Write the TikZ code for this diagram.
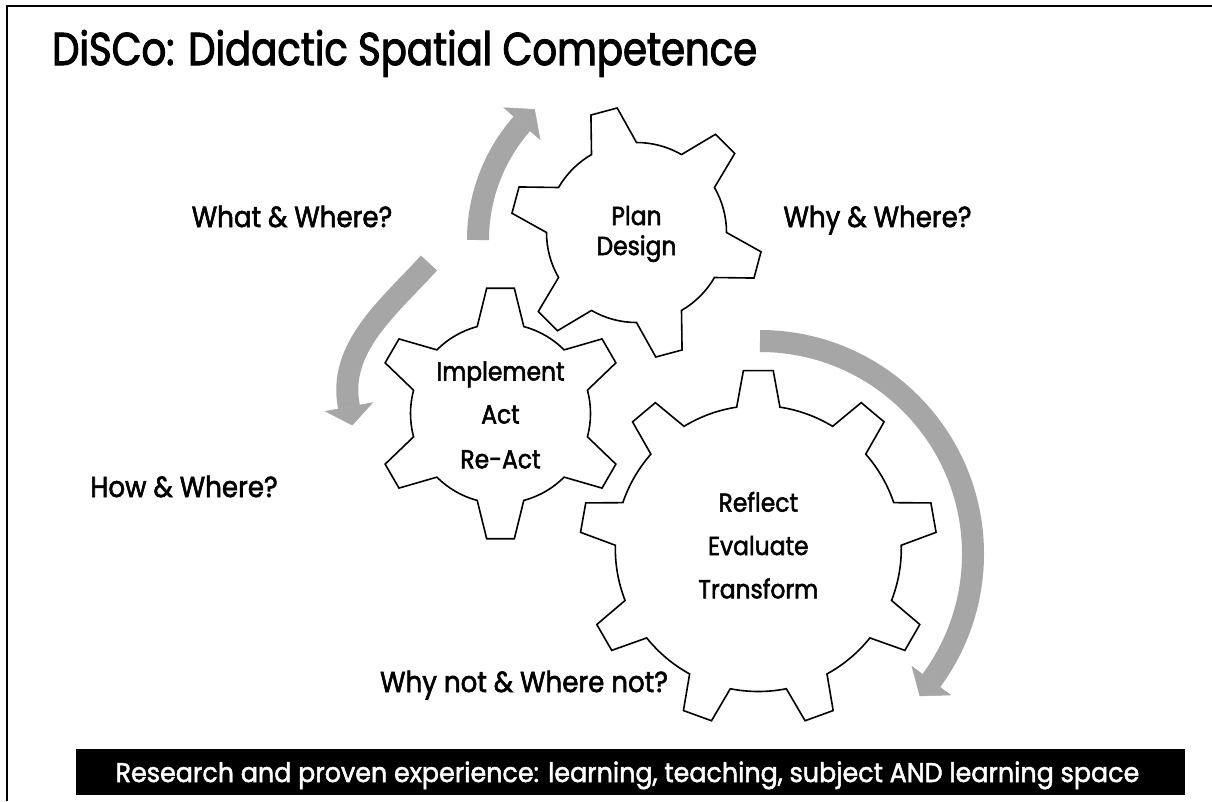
\documentclass[tikz,border=0pt]{standalone}
\usepackage{fontspec}
\setmainfont{Poppins}[FakeStretch=0.9, FakeBold=2]
\newfontfamily\titlefont{Poppins}[FakeStretch=0.84, FakeBold=2.2]
\newfontfamily\barfont{Poppins}[FakeStretch=0.94, FakeBold=1.8]
\usetikzlibrary{calc}
\definecolor{arrowgray}{RGB}{166,166,166}
\newcommand\drawgear[8]{%
  \draw[gearline, shift={#2}] ({#6-#7}:#3pt)
    \foreach \k [evaluate=\k as \a using #6+(\k-1)*360/#5] in {1,...,#5}{
      -- ({\a-#8}:#4pt) -- ({\a+#8}:#4pt) -- ({\a+#7}:#3pt)
      arc[start angle={\a+#7}, end angle={\a+360/#5-#7}, radius=#3pt]
    } -- cycle;
  \coordinate (#1) at #2;
}
\begin{document}
\begin{tikzpicture}[x=1pt,y=1pt,
  gearline/.style={draw=black, line width=1.6pt, fill=white, line join=miter},
  shaft/.style={draw=arrowgray, line width=22pt, line cap=butt},
  headfill/.style={fill=arrowgray, draw=arrowgray, line width=0.5pt, line join=miter},
  titletext/.style={inner sep=0pt, anchor=base west, font=\titlefont\fontsize{46}{50}\selectfont},
  lbl/.style={inner sep=0pt, anchor=base, font=\fontsize{29}{34}\selectfont},
  geartext/.style={inner sep=0pt, anchor=base, font=\fontsize{26}{30}\selectfont},
  bartext/.style={inner sep=0pt, anchor=base, text=white, font=\barfont\fontsize{27}{30}\selectfont},
  barbox/.style={fill=black, draw=none, inner sep=0pt, minimum width=1109pt, minimum height=46pt}]
\useasboundingbox (0,0) rectangle (1212,-801);
\fill[white] (0,0) rectangle (1212,-801);
% frame
\draw[line width=2.4pt] (1212,-6) -- (7,-6) -- (7,-801);

% title
\node[titletext] (title) at (52,-65) {DiSCo: Didactic Spatial Competence};

% gears
\drawgear{g1}{(636.5,-232.5)}{90}{126}{6}{105}{15}{6.2}
\drawgear{g2}{(500.5,-413.5)}{90}{126}{6}{90}{15}{6.3}
\drawgear{g3}{(758.3,-548.5)}{143}{178.5}{9}{90}{8.7}{4.8}

% arrow A (up, towards Plan)
\coordinate (cA) at (654,-240);
\draw[shaft] ($(cA)+(180:176pt)$) coordinate (aAs)
  arc[start angle=180, end angle=138.6, radius=176pt] coordinate (aAe);
\fill[headfill] ($(cA)+(138.6:200pt)$) -- ($(cA)+(132.44:177pt)$) -- ($(cA)+(138.6:152pt)$) -- cycle;

% arrow B (down-left, towards How)
\coordinate (aBs) at (429,-263);
\coordinate (aBe) at (349,-407);
\draw[shaft] (aBs) .. controls (389,-307) and (337,-348) .. (aBe);
\fill[headfill] (325.5,-411.3) -- (352.3,-425.1) -- (372.5,-402.7) -- cycle;

% arrow C (around Reflect)
\coordinate (cC) at (760,-554);
\draw[shaft] ($(cC)+(90:213pt)$) coordinate (aCs)
  arc[start angle=90, end angle=-36.5, radius=213pt] coordinate (aCe);
\fill[headfill] ($(cC)+(-36.5:237pt)$) -- ($(cC)+(-41.6:213.8pt)$) -- ($(cC)+(-36.5:189pt)$) -- cycle;

% gear texts
\node[geartext] (t1a) at (636.5,-225) {Plan};
\node[geartext] (t1b) at (636.5,-255) {Design};
\node[geartext] (t2a) at (500.5,-380.5) {Implement};
\node[geartext] (t2b) at (500.5,-423.5) {Act};
\node[geartext] (t2c) at (500.5,-468.3) {Re-Act};
\node[geartext] (t3a) at (758.3,-511.7) {Reflect};
\node[geartext] (t3b) at (758.3,-555) {Evaluate};
\node[geartext] (t3c) at (758.3,-598.3) {Transform};

% labels
\node[lbl] (what) at (292,-227) {What \& Where?};
\node[lbl] (why) at (877.5,-227) {Why \& Where?};
\node[lbl] (how) at (184,-497) {How \& Where?};
\node[lbl] (whynot) at (524,-692) {Why not \& Where not?};

% bottom bar
\node[barbox] (bar) at (630.5,-772) {};
\node[bartext] (bartxt) at (627.5,-782) {Research and proven experience: learning, teaching, subject AND learning space};
\end{tikzpicture}
\end{document}
